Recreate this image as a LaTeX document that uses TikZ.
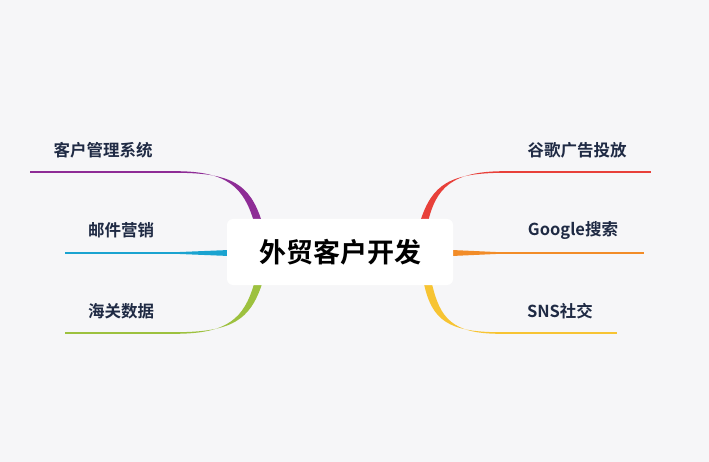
\documentclass[tikz,border=0pt]{standalone}
\usepackage{fontspec}
\newfontfamily\cjk{Noto Sans CJK SC}[BoldFont={Noto Sans CJK SC Bold}]
\begin{document}
\begin{tikzpicture}[x=1pt,y=-1pt,
  lbl/.style={font=\cjk\bfseries\fontsize{16.5}{19}\selectfont,text=navy,inner sep=0},
  br/.style={line width=1.4pt}]
\definecolor{bg}{HTML}{F6F6F8}
\definecolor{navy}{HTML}{1F2A44}
\definecolor{cpur}{HTML}{8E2C96}
\definecolor{ccyan}{HTML}{1AA3D0}
\definecolor{cgreen}{HTML}{9DC13F}
\definecolor{cred}{HTML}{E8403A}
\definecolor{corange}{HTML}{F28C28}
\definecolor{cyellow}{HTML}{F7C433}
\fill[bg] (0,0) rectangle (709,462);
\useasboundingbox (0,0) rectangle (709,462);
% branch curves (tapered)
\fill[cpur] (175,171.2) .. controls (228,171) and (244,188) .. (254,222) -- (262,222) .. controls (250,184) and (232,172.8) .. (175,172.8) -- cycle;
\fill[ccyan] (175,252.2) -- (229,250) -- (229,256) -- (175,253.8) -- cycle;
\fill[cgreen] (175,332.2) .. controls (232,332.2) and (250,320) .. (262,284) -- (254,284) .. controls (244,318) and (228,333.8) .. (175,333.8) -- cycle;
\fill[cred] (505,171.2) .. controls (452,171) and (436,188) .. (428,222) -- (420,222) .. controls (432,184) and (450,172.8) .. (505,172.8) -- cycle;
\fill[corange] (500,252.2) -- (452,250) -- (452,256) -- (500,253.8) -- cycle;
\fill[cyellow] (500,332.2) .. controls (448,332.2) and (432,320) .. (424,284) -- (432,284) .. controls (440,318) and (452,333.8) .. (500,333.8) -- cycle;
% center
\node[fill=white,rounded corners=6pt,minimum width=226pt,minimum height=66pt,inner sep=0,
  font=\cjk\bfseries\fontsize{27}{30}\selectfont,text=black] (c) at (340,252) {外贸客户开发};
% labels
\node[lbl] (l1) at (103,150) {客户管理系统};
\node[lbl] (l2) at (121,230) {邮件营销};
\node[lbl] (l3) at (121,311) {海关数据};
\node[lbl] (r1) at (577,150) {谷歌广告投放};
\node[lbl] (r2) at (573,230) {Google搜索};
\node[lbl] (r3) at (560,311) {SNS社交};
% underlines
\coordinate (a1) at (30,172); \coordinate (b1) at (176,172);
\coordinate (a2) at (65,253); \coordinate (b2) at (176,253);
\coordinate (a3) at (65,333); \coordinate (b3) at (176,333);
\coordinate (c1) at (504,172); \coordinate (d1) at (651,172);
\coordinate (c2) at (499,253); \coordinate (d2) at (644,253);
\coordinate (c3) at (499,333); \coordinate (d3) at (617,333);
\draw[br,cpur] (a1) -- (b1);
\draw[br,ccyan] (a2) -- (b2);
\draw[br,cgreen] (a3) -- (b3);
\draw[br,cred] (c1) -- (d1);
\draw[br,corange] (c2) -- (d2);
\draw[br,cyellow] (c3) -- (d3);
\end{tikzpicture}
\end{document}
